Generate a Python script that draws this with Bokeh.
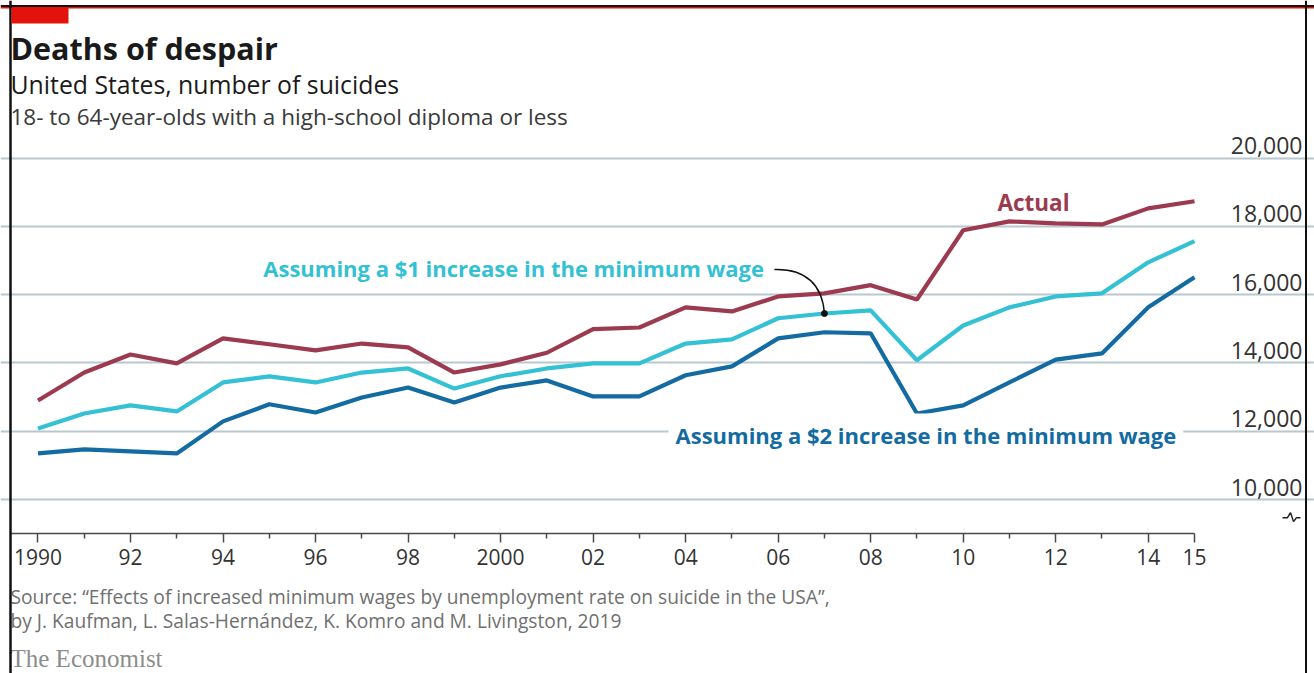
from bokeh.plotting import figure
from bokeh.models import (Range1d, LinearAxis, FixedTicker, Grid, Label, Span,
                          BoxAnnotation)
from bokeh.core.properties import value
from bokeh.embed import file_html
from bokeh.resources import INLINE

# ---------------- data ----------------
years = list(range(1990, 2016))
actual = [12900, 13720, 14250, 13990, 14720, 14550, 14370, 14570, 14460, 13720,
          13960, 14300, 14990, 15040, 15630, 15510, 15950, 16040, 16280, 15860,
          17890, 18150, 18090, 18060, 18530, 18740]
plus1 = [12080, 12520, 12760, 12580, 13430, 13610, 13430, 13720, 13840, 13250,
         13610, 13840, 13990, 13990, 14570, 14690, 15310, 15450, 15540, 14080,
         15100, 15630, 15950, 16040, 16950, 17570]
plus2 = [11350, 11470, 11410, 11350, 12290, 12790, 12550, 12990, 13280, 12840,
         13280, 13490, 13020, 13020, 13640, 13900, 14720, 14900, 14870, 12520,
         12760, 13430, 14100, 14280, 15630, 16510]

x_major_ticks = [1990, 1992, 1994, 1996, 1998, 2000, 2002, 2004, 2006, 2008,
                 2010, 2012, 2014, 2015]
x_tick_labels = ["1990", "92", "94", "96", "98", "2000", "02", "04", "06", "08",
                 "10", "12", "14", "15"]
x_minor_ticks = [1991, 1993, 1995, 1997, 1999, 2001, 2003, 2005, 2007, 2009,
                 2011, 2013]
y_ticks = [10000, 12000, 14000, 16000, 18000, 20000]
y_tick_labels = ["10,000", "12,000", "14,000", "16,000", "18,000", "20,000"]

# ---------------- styling ----------------
C_ACT = "#9c3a4f"
C_P1 = "#33c1d3"
C_P2 = "#136ba1"
FONT = "Open Sans"

W, H = 1314, 673
X0, X1 = 1989.1894, 2017.594
Y0, Y1 = 4902, 24621
PX_PER_YEAR = W / (X1 - X0)
PX_PER_UNIT = H / (Y1 - Y0)

p = figure(width=W, height=H, output_backend="svg", toolbar_location=None,
           x_axis_type=None, y_axis_type=None, title=None,
           x_range=Range1d(X0, X1), y_range=Range1d(Y0, Y1),
           min_border_left=0, min_border_right=0, min_border_top=0,
           min_border_bottom=0)
p.outline_line_color = None
p.background_fill_color = "white"
p.border_fill_color = "white"

# horizontal grid
grid = Grid(dimension=1, ticker=FixedTicker(ticks=y_ticks),
            grid_line_color="#b9c7d0", grid_line_width=2,
            bounds=(X0 + 10 / PX_PER_YEAR, X0 + 1302 / PX_PER_YEAR))
p.add_layout(grid)

# x axis at 9,000
xaxis = LinearAxis(ticker=FixedTicker(ticks=x_major_ticks, minor_ticks=x_minor_ticks),
                   fixed_location=9000, bounds=(X0 + 10 / PX_PER_YEAR, 2015))
xaxis.major_label_overrides = {t: l for t, l in zip(x_major_ticks, x_tick_labels)}
xaxis.axis_line_color = "#4a4a4a"
xaxis.axis_line_width = 1.5
xaxis.major_tick_line_color = "#4a4a4a"
xaxis.minor_tick_line_color = "#4a4a4a"
xaxis.major_tick_line_width = 1.5
xaxis.minor_tick_line_width = 1.5
xaxis.major_tick_in = 0
xaxis.major_tick_out = 9
xaxis.minor_tick_in = 0
xaxis.minor_tick_out = 5
xaxis.major_label_standoff = 6
xaxis.major_label_text_font = FONT
xaxis.major_label_text_font_size = "21px"
xaxis.major_label_text_color = "#333333"
p.add_layout(xaxis, "below")

# y tick labels sitting on the gridlines at right
p.text(x=[X0 + 1302 / PX_PER_YEAR] * len(y_ticks), y=y_ticks, text=y_tick_labels,
       text_align="right", text_baseline="bottom", y_offset=-4,
       text_font=value(FONT), text_font_size="23px", text_color="#333333")

# axis-break symbol
bx, by = X0 + 1291 / PX_PER_YEAR, 9000 + 16 / PX_PER_UNIT
offs = [(-9, 0), (-4, 0), (-1, -5), (2, 4), (5, 0), (9, 0)]
p.line([bx + dx / PX_PER_YEAR for dx, dy in offs],
       [by - dy / PX_PER_UNIT for dx, dy in offs],
       line_color="#222222", line_width=1.5)

# series
p.line(years, actual, line_color=C_ACT, line_width=4.2)
p.line(years, plus1, line_color=C_P1, line_width=4.2)
p.line(years, plus2, line_color=C_P2, line_width=4.2)

# callout for $1 series (points to 2007)
ix = years.index(2007)
ex, ey = years[ix], plus1[ix]
p.bezier(x0=[ex - 50 / PX_PER_YEAR], y0=[ey + 44 / PX_PER_UNIT],
         x1=[ex], y1=[ey],
         cx0=[ex - 18 / PX_PER_YEAR], cy0=[ey + 45 / PX_PER_UNIT],
         cx1=[ex - 2 / PX_PER_YEAR], cy1=[ey + 28 / PX_PER_UNIT],
         line_color="#111111", line_width=1.4)
p.scatter([ex], [ey], size=6, color="#111111")

# series labels
p.add_layout(Label(x=1994.87, y=16774, text="Assuming a $1 increase in the minimum wage",
                   text_color=C_P1, text_font=FONT, text_font_style="bold",
                   text_font_size="22px", text_baseline="middle"))
p.add_layout(Label(x=2003.63, y=11877, text="Assuming a $2 increase in the minimum wage",
                   text_color=C_P2, text_font=FONT, text_font_style="bold",
                   text_font_size="22px", text_baseline="middle",
                   background_fill_color="white", padding=7))
p.add_layout(Label(x=2010.74, y=18710, text="Actual",
                   text_color=C_ACT, text_font=FONT, text_font_style="bold",
                   text_font_size="22.5px", text_baseline="middle"))

# titles (screen units, measured from the bottom of the canvas)
def slabel(x, y, text, size, color, style="normal", font=FONT):
    p.add_layout(Label(x=x, y=y, x_units="screen", y_units="screen", text=text,
                       text_font=font, text_font_size=size, text_color=color,
                       text_font_style=style, text_baseline="middle"))

slabel(10, 626, "Deaths of despair", "30.5px", "#1a1a1a", "bold")
slabel(10, 590, "United States, number of suicides", "24.8px", "#1a1a1a")
slabel(10, 557, "18- to 64-year-olds with a high-school diploma or less", "22.5px", "#3a3a3a")
slabel(10, 77, "Source: \u201cEffects of increased minimum wages by unemployment rate on suicide in the USA\u201d,",
       "19.2px", "#707070")
slabel(10, 53, "by J. Kaufman, L. Salas-Hern\u00e1ndez, K. Komro and M. Livingston, 2019",
       "19.2px", "#707070")
slabel(10, 15, "The Economist", "25px", "#8c8c8c", font="Liberation Serif")

# frame decoration
p.add_layout(Span(dimension="width", location=H - 5.5, location_units="screen",
                  line_color="#111111", line_width=2))
p.add_layout(Span(dimension="width", location=H - 7.2, location_units="screen",
                  line_color="#e3120b", line_width=1.4))
p.add_layout(Span(dimension="height", location=10, location_units="screen",
                  line_color="#111111", line_width=2.5))
p.add_layout(Span(dimension="height", location=1305.5, location_units="screen",
                  line_color="#111111", line_width=2))
p.add_layout(BoxAnnotation(left=11, right=68, top=H - 7, bottom=H - 23,
                           left_units="screen", right_units="screen",
                           top_units="screen", bottom_units="screen",
                           fill_color="#e3120b", fill_alpha=1, line_color=None))

open("out.html", "w").write(file_html(p, INLINE))
